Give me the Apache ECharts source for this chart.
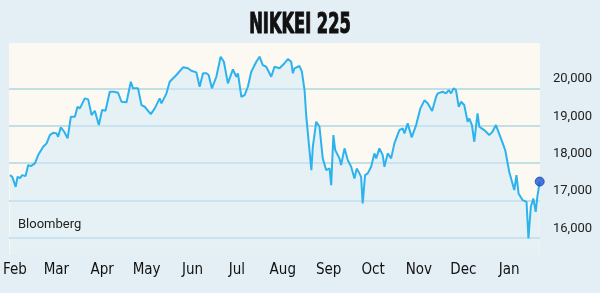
<!DOCTYPE html>
<html><head><meta charset="utf-8">
<script src="https://cdn.jsdelivr.net/npm/echarts@6/dist/echarts.min.js"></script>
<style>html,body{margin:0;padding:0;background:#e3eff4;}#c{width:600px;height:293px;}</style>
</head><body><div id="c"></div>
<script>
// Day offsets from 1 Feb 2015
const days = [-3.4,-1.8,0.5,1.8,3.4,4.9,7.2,9.0,10.8,13.5,15.7,19.1,21.4,23.6,25.8,28.1,29.2,31.0,33.3,35.6,37.8,40.5,42.3,43.9,47.2,49.5,51.8,54.0,56.7,58.9,61.2,64.1,67.0,69.7,72.0,75.4,78.3,79.8,83.2,85.5,87.7,91.8,94.5,97.8,99.0,102.4,104.6,109.1,113.6,116.9,119.2,122.6,124.8,127.1,129.4,130.9,133.1,136.1,139.0,141.2,143.9,147.3,149.6,150.7,153.0,155.2,157.4,159.7,163.1,165.3,167.5,169.8,173.2,175.4,178.8,181.7,184.4,186.7,187.8,188.9,192.3,193.9,195.7,196.8,200.3,201.3,203.6,205.8,208.0,209.2,210.3,212.6,213.7,215.2,216.4,219.3,220.4,222.7,224.9,227.2,229.4,231.0,232.8,233.9,235.0,236.6,238.4,240.7,242.9,244.1,246.3,248.5,249.7,251.9,254.2,256.4,257.6,259.8,262.0,263.2,265.4,268.1,271.1,274.0,276.7,278.9,281.9,284.6,285.7,289.0,291.3,293.1,294.7,296.4,298.0,299.9,301.5,303.6,305.9,307.0,308.8,310.4,312.6,313.8,317.1,320.5,322.7,325.0,328.4,331.3,334.0,337.4,338.9,340.3,343.0,345.7,347.0,348.6,350.3,351.9,353.0,354.6];
const values = [17681,17635,17367,17635,17600,17681,17654,17949,17922,17995,18217,18440,18531,18753,18815,18799,18708,18960,18842,18665,19244,19244,19512,19469,19737,19710,19290,19405,19021,19424,19405,19914,19914,19887,19646,19630,20182,20005,20005,19558,19512,19316,19469,19737,19603,19871,20182,20362,20568,20542,20477,20434,20048,20408,20408,20362,20005,20316,20853,20718,20139,20515,20316,20408,19780,19826,20048,20450,20718,20853,20630,20584,20316,20584,20542,20657,20791,20718,20408,20542,20603,20450,19960,19290,17815,18440,19110,18976,18129,18172,17815,17861,17413,18753,18351,18129,17949,18397,18083,17903,17592,17861,17727,17635,16922,17681,17727,17903,18263,18129,18397,18217,17903,18263,18129,18531,18485,18887,18933,18799,19067,18692,19021,19469,19684,19603,19397,19780,19871,19914,19871,19960,19871,20005,19960,19512,19646,19558,19110,19201,19021,18574,19335,18976,18887,18753,18842,19021,18665,18351,17769,17279,17681,17190,17011,16965,15984,16831,17056,16697,17099,17507];
const monthLabels = ['Feb','Mar','Apr','May','Jun','Jul','Aug','Sep','Oct','Nov','Dec','Jan'];
const monthDays = [0,28,59,89,120,150,181,212,242,273,303,334];
const yTicks = [16000,17000,18000,19000,20000];
const title = 'NIKKEI 225';
const source = 'Bloomberg';

const series = days.map((d,i)=>[d, values[i]]);
const last = series[series.length-1];
const labelFor = {};
monthDays.forEach((d,i)=>{labelFor[d]=monthLabels[i];});

const chart = echarts.init(document.getElementById('c'), null, {renderer:'canvas'});
chart.setOption({
  backgroundColor: '#e3eff4',
  animation: false,
  grid: {left: 9, right: 60, top: 43, bottom: 38, show: true, backgroundColor: '#fbf9f1', borderWidth: 0},
  xAxis: {
    type: 'value', min: -4, max: 354.8,
    axisLine: {show: false}, splitLine: {show: false},
    axisTick: {show: false, customValues: monthDays},
    axisLabel: {
      customValues: monthDays, margin: 8,
      formatter: v => labelFor[v] || '',
      fontFamily: "'Liberation Sans Narrow','DejaVu Sans Condensed','Roboto'",
      fontSize: 15, color: '#111'
    }
  },
  yAxis: {
    type: 'value', position: 'right', min: 15540, max: 21220,
    axisLine: {show: false},
    axisTick: {show: false, customValues: yTicks},
    splitLine: {show: true, lineStyle: {color: '#c3dfe6', width: 2}},
    axisLabel: {
      customValues: yTicks, margin: 13, align: 'left', verticalAlign: 'bottom',
      padding: [0,0,3,0],
      formatter: v => v.toLocaleString('en-US'),
      fontFamily: 'Roboto', fontSize: 13, color: '#222'
    }
  },
  graphic: [
    {type: 'text', x: 300, y: 26, scaleX: 0.58, z: 20,
     style: {text: title, fontFamily: "'DejaVu Sans'", fontWeight: 'bold', fontSize: 28,
             fill: '#111', stroke: '#111', lineWidth: 1.2, textAlign: 'center', textVerticalAlign: 'middle'}},
    {type: 'text', x: 18, y: 225, z: 20,
     style: {text: source, fontFamily: 'Roboto', fontSize: 13, fill: '#222', textVerticalAlign: 'middle'}}
  ],
  series: [
    {type: 'line', data: series, showSymbol: false, symbol: 'none',
     lineStyle: {color: '#2cb3ee', width: 2}, areaStyle: {color: 'rgba(207,233,249,0.5)', opacity: 1, origin: 'start'}, z: 3},
    {type: 'scatter', data: [last], symbolSize: 9, itemStyle: {color: '#1f55d4', borderColor: '#1a3fa8', borderWidth: 1}, z: 5}
  ]
});
</script></body></html>
